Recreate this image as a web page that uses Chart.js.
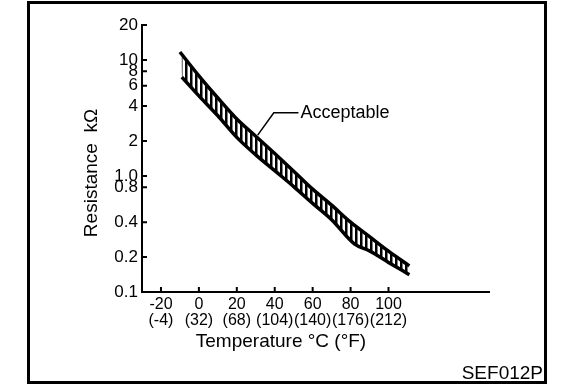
<!DOCTYPE html>
<html>
<head>
<meta charset="utf-8">
<script src="https://cdn.jsdelivr.net/npm/chart.js@4.4.1/dist/chart.umd.min.js"></script>
<style>
  html, body { margin: 0; padding: 0; background: #fff; }
  canvas { display: block; }
</style>
</head>
<body>
<canvas id="chart" width="576" height="388"></canvas>
<script>
// acceptable band (temperature °C -> resistance kΩ)
const upperTemp = [-10, 0, 10, 20, 30, 40, 50, 60, 70, 80, 90, 100, 111];
const upperRes  = [11.7, 7.3, 4.7, 3.1, 2.2, 1.56, 1.1, 0.77, 0.56, 0.40, 0.30, 0.225, 0.168];
const lowerTemp = [-9, 0, 10, 20, 30, 40, 50, 60, 70, 82, 90, 100, 111];
const lowerRes  = [7.1, 4.9, 3.3, 2.15, 1.52, 1.11, 0.81, 0.58, 0.42, 0.26, 0.226, 0.18, 0.141];

const xTicks = [-20, 0, 20, 40, 60, 80, 100];
const xTicksF = ['(-4)', '(32)', '(68)', '(104)', '(140)', '(176)', '(212)'];
const yTicks = [0.1, 0.2, 0.4, 0.8, 1, 2, 4, 6, 8, 10, 20];
const yTickLabels = ['0.1', '0.2', '0.4', '0.8', '1.0', '2', '4', '6', '8', '10', '20'];

// callout: point on band -> elbow -> text
const calloutTemp = [31, 39.5, 52.5];
const calloutRes = [2.25, 3.5, 3.5];
const calloutText = 'Acceptable';
const xTitle = 'Temperature °C (°F)';
const yTitle = 'Resistance  kΩ';
const figureCode = 'SEF012P';

const FONT = "'Liberation Sans', Arial, Helvetica, sans-serif";
Chart.defaults.font.family = FONT;
Chart.defaults.color = '#000';

const canvas = document.getElementById('chart');
const ctx = canvas.getContext('2d');

// vertical hatching for the band
const tile = document.createElement('canvas');
tile.width = 5; tile.height = 4;
const tctx = tile.getContext('2d');
tctx.fillStyle = '#000';
tctx.fillRect(0, 0, 2.5, 4);
const hatch = ctx.createPattern(tile, 'repeat');

const decor = {
  id: 'decor',
  afterDraw(chart) {
    const { ctx, scales: { x, y } } = chart;
    const area = chart.chartArea;
    ctx.save();
    ctx.strokeStyle = '#000';
    ctx.fillStyle = '#000';

    // inward tick marks
    ctx.lineWidth = 2;
    ctx.beginPath();
    x.ticks.forEach(t => {
      const px = x.getPixelForValue(t.value);
      ctx.moveTo(px, area.bottom);
      ctx.lineTo(px, area.bottom - 5);
    });
    y.ticks.forEach(t => {
      const py = y.getPixelForValue(t.value);
      ctx.moveTo(area.left, py);
      ctx.lineTo(area.left + 5, py);
    });
    ctx.stroke();

    // callout line + label
    const pts = calloutTemp.map((t, i) => [x.getPixelForValue(t), y.getPixelForValue(calloutRes[i])]);
    ctx.lineWidth = 1.5;
    ctx.beginPath();
    pts.forEach((p, i) => i ? ctx.lineTo(p[0], p[1]) : ctx.moveTo(p[0], p[1]));
    ctx.stroke();
    const last = pts[pts.length - 1];
    ctx.font = '18px ' + FONT;
    ctx.textAlign = 'left';
    ctx.textBaseline = 'middle';
    ctx.fillText(calloutText, last[0] + 2, last[1]);

    // axis titles
    ctx.font = '19px ' + FONT;
    ctx.textAlign = 'center';
    ctx.textBaseline = 'alphabetic';
    ctx.fillText(xTitle, 281, 347);
    ctx.save();
    ctx.translate(97, 173);
    ctx.rotate(-Math.PI / 2);
    ctx.fillText(yTitle, 0, 0);
    ctx.restore();

    // frame and figure code
    ctx.lineWidth = 3;
    ctx.strokeRect(28.5, 2.5, 517, 380);
    ctx.font = '19px ' + FONT;
    ctx.textAlign = 'right';
    ctx.fillText(figureCode, 543, 379);
    ctx.restore();
  }
};

new Chart(ctx, {
  type: 'line',
  data: {
    datasets: [{
      data: upperTemp.map((t, i) => ({ x: t, y: upperRes[i] })),
      borderColor: '#000',
      borderWidth: 3.5,
      backgroundColor: hatch,
      fill: '+1',
      pointRadius: 0,
      cubicInterpolationMode: 'monotone'
    }, {
      data: lowerTemp.map((t, i) => ({ x: t, y: lowerRes[i] })),
      borderColor: '#000',
      borderWidth: 3.5,
      fill: false,
      pointRadius: 0,
      cubicInterpolationMode: 'monotone'
    }]
  },
  options: {
    responsive: false,
    animation: false,
    layout: { padding: { left: 112, right: 87, top: 25, bottom: 51 } },
    plugins: { legend: { display: false }, tooltip: { enabled: false } },
    scales: {
      x: {
        type: 'linear',
        bounds: 'data',
        min: -30,
        max: 153,
        afterBuildTicks: s => { s.ticks = xTicks.map(v => ({ value: v })); },
        afterFit: s => { s.height = 45; },
        grid: { display: false, drawTicks: false },
        border: { display: true, color: '#000', width: 2 },
        ticks: {
          autoSkip: false,
          maxRotation: 0,
          padding: 5,
          color: '#000',
          font: { size: 16, lineHeight: 1.0 },
          callback: (v, i) => [String(xTicks[i]), xTicksF[i]]
        }
      },
      y: {
        type: 'logarithmic',
        bounds: 'data',
        min: 0.1,
        max: 20,
        afterBuildTicks: s => { s.ticks = yTicks.map(v => ({ value: v })); },
        afterFit: s => { s.width = 30; },
        grid: { display: false, drawTicks: false },
        border: { display: true, color: '#000', width: 2 },
        ticks: {
          autoSkip: false,
          padding: 4,
          color: '#000',
          font: { size: 17 },
          callback: (v, i) => yTickLabels[i]
        }
      }
    }
  },
  plugins: [decor]
});
</script>
</body>
</html>
